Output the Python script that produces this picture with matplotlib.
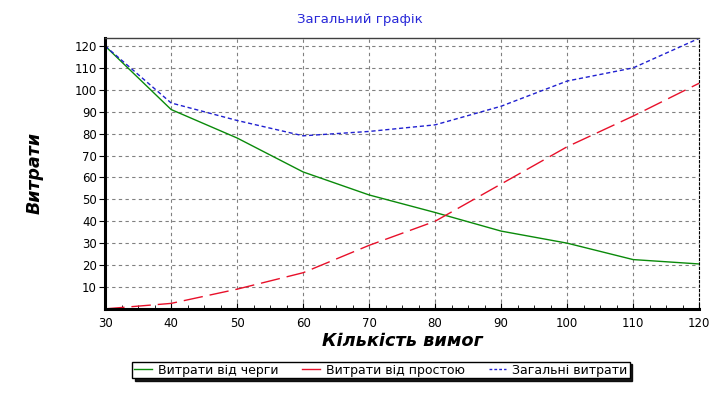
import matplotlib.pyplot as plt
from matplotlib.ticker import MultipleLocator

plt.rcParams['font.family'] = ['DejaVu Sans']

# number of requests
requests = [30, 40, 50, 60, 70, 80, 90, 100, 110, 120]
# costs from the queue
queueCost = [120, 91, 78, 62.5, 52, 44, 35.5, 30, 22.5, 20.5]
# costs from idle time
idleCost = [0, 2.5, 9, 16.5, 29, 40, 57, 74, 88, 103]
# total costs
totalCost = [120, 94, 86, 79, 81, 84, 92.5, 104, 110, 123.5]

seriesNames = ["Витрати від черги", "Витрати від простою", "Загальні витрати"]

fig = plt.figure(figsize=(7.2, 3.97), dpi=100)
ax = fig.add_axes([0.146, 0.222, 0.825, 0.682])

ax.plot(requests, queueCost, color="#0a8a0a", lw=1.0, label=seriesNames[0])
ax.plot(requests, idleCost, color="#e8102a", lw=1.0, dashes=(14, 5), label=seriesNames[1])
ax.plot(requests, totalCost, color="#2020d0", lw=1.0, dashes=(3, 2), label=seriesNames[2])

ax.set_xlim(30, 120)
ax.set_ylim(0, 123.6)
ax.set_xticks(range(30, 121, 10))
ax.set_yticks(range(10, 121, 10))
ax.xaxis.set_minor_locator(MultipleLocator(2.5))
ax.tick_params(axis="both", labelsize=8.5, colors="black")
ax.tick_params(axis="x", which="major", direction="in", length=4, pad=6)
ax.tick_params(axis="x", which="minor", direction="in", length=3)
ax.tick_params(axis="y", direction="out", length=4, pad=2)
ax.grid(True, color="#808080", ls=(0, (3, 3)), lw=0.8)

ax.spines["left"].set_linewidth(2.2)
ax.spines["bottom"].set_linewidth(2.2)
ax.spines["top"].set_linewidth(1.0)
ax.spines["top"].set_color("#404040")
ax.spines["right"].set_linewidth(0.8)
ax.spines["right"].set_linestyle((0, (2, 2)))

fig.text(0.5, 0.95, "Загальний графік", color="#2828d8", fontsize=9.5,
         ha="center", va="center")
ax.set_xlabel("Кількість вимог", fontsize=12.8, fontweight="bold", style="italic")
ax.xaxis.set_label_coords(0.5, -0.085)
ax.set_ylabel("Витрати", fontsize=12.5, fontweight="bold", style="italic")
ax.yaxis.set_label_coords(-0.104, 0.5)

leg = fig.legend(loc="center", bbox_to_anchor=(0.529, 0.068), ncol=3, fontsize=9,
                 frameon=True, fancybox=False, shadow={"color": "black", "alpha": 0.9},
                 handlelength=1.4, columnspacing=1.9, handletextpad=0.5,
                 borderpad=0.15, edgecolor="black")
leg.get_frame().set_linewidth(1.0)
for line in leg.get_lines():
    line.set_linestyle("-" if line.get_color() != "#2020d0" else (0, (2, 1.5)))

fig.savefig("out.png", dpi=100)
